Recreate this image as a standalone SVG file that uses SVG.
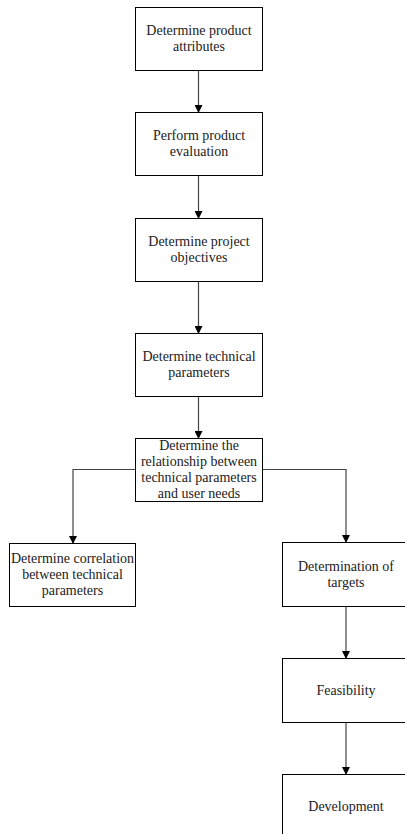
<svg xmlns="http://www.w3.org/2000/svg" width="405" height="834" viewBox="0 0 405 834">
<defs>
<marker id="ah" markerWidth="8" markerHeight="8" refX="7" refY="4" orient="auto" markerUnits="userSpaceOnUse">
<path d="M0,0 L8,4 L0,8 Z" fill="#000"/>
</marker>
<style>
.b{fill:#fff;stroke:#000;stroke-width:1}
.t{font-family:'Liberation Serif',Tinos,'Times New Roman',Times,'DejaVu Serif',serif;font-size:14px;fill:#222;text-anchor:middle}
.c{fill:none;stroke:#444;stroke-width:1.2;marker-end:url(#ah)}
</style>
</defs>
<rect width="405" height="834" fill="#fff"/>
<g id="connectors">
<path class="c" d="M198.5,70 V112"/>
<path class="c" d="M198.5,175 V218"/>
<path class="c" d="M198.5,281 V333"/>
<path class="c" d="M198.5,396 V438"/>
<path class="c" d="M136,469.5 H73 V543"/>
<path class="c" d="M262,469.5 H346 V542"/>
<path class="c" d="M346,606 V658"/>
<path class="c" d="M346,722 V774"/>
</g>
<g id="n1"><rect class="b" x="135.5" y="7.5" width="127" height="63"/>
<text class="t" x="199" y="35">Determine product</text><text class="t" x="199" y="51">attributes</text></g>
<g id="n2"><rect class="b" x="135.5" y="112.5" width="127" height="63"/>
<text class="t" x="199" y="140">Perform product</text><text class="t" x="199" y="156">evaluation</text></g>
<g id="n3"><rect class="b" x="135.5" y="218.5" width="127" height="63"/>
<text class="t" x="199" y="246">Determine project</text><text class="t" x="199" y="262">objectives</text></g>
<g id="n4"><rect class="b" x="135.5" y="333.5" width="127" height="63"/>
<text class="t" x="199" y="361">Determine technical</text><text class="t" x="199" y="377">parameters</text></g>
<g id="n5"><rect class="b" x="135.5" y="438.5" width="127" height="63"/>
<text class="t" x="199" y="450">Determine the</text><text class="t" x="199" y="466">relationship between</text><text class="t" x="199" y="482">technical parameters</text><text class="t" x="199" y="498">and user needs</text></g>
<g id="n6"><rect class="b" x="9.5" y="543.5" width="126" height="63"/>
<text class="t" x="72.5" y="563">Determine correlation</text><text class="t" x="72.5" y="579">between technical</text><text class="t" x="72.5" y="595">parameters</text></g>
<g id="n7"><rect class="b" x="282.5" y="542.5" width="127" height="64"/>
<text class="t" x="346" y="571">Determination of</text><text class="t" x="346" y="587">targets</text></g>
<g id="n8"><rect class="b" x="282.5" y="658.5" width="127" height="64"/>
<text class="t" x="346" y="695">Feasibility</text></g>
<g id="n9"><rect class="b" x="282.5" y="774.5" width="127" height="64"/>
<text class="t" x="346" y="811">Development</text></g>
</svg>
